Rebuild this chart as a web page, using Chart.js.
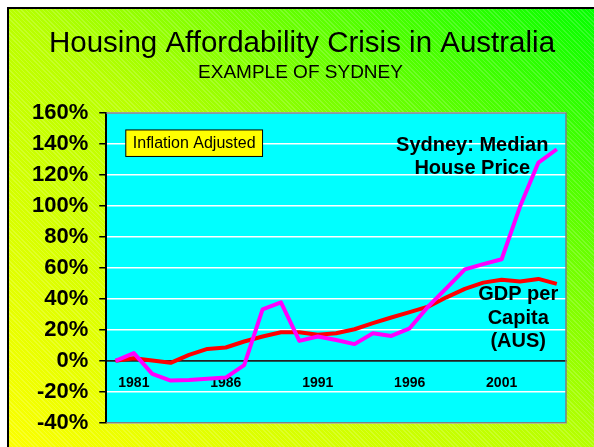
<!DOCTYPE html>
<html>
<head>
<meta charset="utf-8">
<script src="https://cdn.jsdelivr.net/npm/chart.js@4.4.1/dist/chart.umd.min.js"></script>
<style>
  html, body { margin: 0; padding: 0; background: #fff; }
  #wrap { position: relative; width: 594px; height: 447px; overflow: hidden; }
  #bg {
    position: absolute; left: 7px; top: 7px; width: 600px; height: 460px;
    border-left: 2px solid #000; border-top: 2px solid #000;
    background:
      repeating-linear-gradient(45deg, rgba(255,255,255,0.16) 0px, rgba(255,255,255,0.16) 1px, rgba(255,255,255,0) 1px, rgba(255,255,255,0) 3px),
      linear-gradient(to top right, #ffff00 0%, #b8ff00 50%, #00ff00 100%);
  }
  canvas { position: absolute; left: 0; top: 0; }
</style>
</head>
<body>
<div id="wrap">
  <div id="bg"></div>
  <canvas id="c" width="594" height="447"></canvas>
</div>
<script>
// ---- data ----
const years = ['1980','1981','1982','1983','1984','1985','1986','1987','1988','1989','1990','1991','1992','1993','1994','1995','1996','1997','1998','1999','2000','2001','2002','2003','2004'];
const shownYears = ['1981','1986','1991','1996','2001'];
const sydneyHousePrice = [0, 5, -8.4, -12.7, -12.3, -11.5, -10.8, -2.8, 33.3, 37.8, 12.9, 15.7, 13.5, 10.8, 17.8, 16.1, 21, 35, 47, 59, 62.4, 65.6, 99.6, 128, 136.6];
const gdpPerCapita = [0, 1.7, 0.2, -1.3, 3.9, 7.7, 8.6, 12.5, 15.7, 18.5, 18.5, 16.8, 17.8, 20.4, 24.3, 28, 31.4, 35, 41, 46.5, 50.5, 52.3, 51.2, 52.9, 49.7];
const yMin = -40, yMax = 160, yStep = 20;

const titleText = 'Housing Affordability Crisis in Australia';
const subtitleText = 'EXAMPLE OF SYDNEY';

const FONT = "'Liberation Sans', Arial, Helvetica, sans-serif";

// ---- text annotations (anchored in data space) ----
const notes = [
  { lines: ['Sydney: Median', 'House Price'], xi: 19.4, yv: 138.9, size: 20, bold: true, gap: 23 },
  { lines: ['GDP per', 'Capita', '(AUS)'], xi: 21.9, yv: 42.6, size: 20, bold: true, gap: 23.5 }
];
const boxNote = { text: 'Inflation Adjusted', xi: 4.28, yv: 140.5, size: 16 };

const plotBg = {
  id: 'plotBg',
  beforeDraw(chart) {
    const { ctx, chartArea: a } = chart;
    ctx.save();
    ctx.fillStyle = '#00ffff';
    ctx.fillRect(a.left, a.top, a.right - a.left, a.bottom - a.top);
    ctx.restore();
  },
  beforeDatasetsDraw(chart) {
    const { ctx, chartArea: a } = chart;
    ctx.save();
    ctx.strokeStyle = '#808080';
    ctx.lineWidth = 1.5;
    ctx.beginPath();
    ctx.moveTo(a.left, a.top);
    ctx.lineTo(a.right, a.top);
    ctx.lineTo(a.right, a.bottom);
    ctx.lineTo(a.left, a.bottom);
    ctx.stroke();
    ctx.restore();
  }
};

const titlesPlugin = {
  id: 'slideTitles',
  afterDraw(chart) {
    const { ctx } = chart;
    ctx.save();
    ctx.fillStyle = '#000';
    ctx.textAlign = 'center';
    ctx.textBaseline = 'middle';
    ctx.font = '29.5px ' + FONT;
    ctx.fillText(titleText, 302, 43.5);
    ctx.font = '19px ' + FONT;
    ctx.fillText(subtitleText, 300.5, 72.5);
    ctx.restore();
  }
};

const notesPlugin = {
  id: 'notes',
  afterDatasetsDraw(chart) {
    const { ctx } = chart;
    const xs = chart.scales.x, ys = chart.scales.y;
    ctx.save();
    ctx.fillStyle = '#000';
    ctx.textAlign = 'center';
    ctx.textBaseline = 'middle';
    notes.forEach(n => {
      ctx.font = (n.bold ? 'bold ' : '') + n.size + 'px ' + FONT;
      const x = xs.getPixelForValue(n.xi);
      const y0 = ys.getPixelForValue(n.yv);
      n.lines.forEach((t, i) => ctx.fillText(t, x, y0 + i * n.gap));
    });
    // boxed note
    ctx.font = boxNote.size + 'px ' + FONT;
    const bx = xs.getPixelForValue(boxNote.xi);
    const by = ys.getPixelForValue(boxNote.yv);
    const w = ctx.measureText(boxNote.text).width + 14;
    const h = 26.5;
    ctx.fillStyle = '#ffff00';
    ctx.fillRect(bx - w / 2, by - h / 2, w, h);
    ctx.strokeStyle = '#000';
    ctx.lineWidth = 1;
    ctx.strokeRect(bx - w / 2, by - h / 2, w, h);
    ctx.fillStyle = '#000';
    ctx.fillText(boxNote.text, bx, by + 0.5);
    ctx.restore();
  }
};

new Chart(document.getElementById('c'), {
  type: 'line',
  data: {
    labels: years,
    datasets: [
      { label: 'Sydney: Median House Price', data: sydneyHousePrice, borderColor: '#ff00ff', backgroundColor: '#ff00ff', borderWidth: 4, pointRadius: 0, tension: 0, borderJoinStyle: 'round' },
      { label: 'GDP per Capita (AUS)', data: gdpPerCapita, borderColor: '#ff0000', backgroundColor: '#ff0000', borderWidth: 4, pointRadius: 0, tension: 0, borderJoinStyle: 'round' }
    ]
  },
  options: {
    responsive: false,
    animation: false,
    devicePixelRatio: 1,
    layout: { padding: { left: 21, right: 28, top: 113, bottom: 24 } },
    plugins: {
      legend: { display: false },
      tooltip: { enabled: false },
      title: { display: false },
      subtitle: { display: false }
    },
    scales: {
      x: {
        type: 'category',
        offset: true,
        position: { y: 0 },
        grid: { display: false, drawTicks: false },
        border: { display: true, color: '#222', width: 1.5 },
        ticks: {
          autoSkip: false,
          maxRotation: 0,
          padding: 14,
          color: '#000',
          font: { family: FONT, size: 14, weight: 'bold' },
          callback(v, i) { const l = years[i]; return shownYears.includes(l) ? l : ''; }
        }
      },
      y: {
        min: yMin, max: yMax,
        grid: {
          color: c => (c.tick && c.tick.value === 0) ? '#222' : '#ffffff',
          lineWidth: 1.5,
          tickColor: '#000',
          tickLength: 7,
          drawTicks: true
        },
        border: { display: true, color: '#000', width: 2 },
        ticks: {
          stepSize: yStep,
          padding: 11,
          color: '#000',
          font: { family: FONT, size: 22, weight: 'bold' },
          callback: v => v + '%'
        }
      }
    }
  },
  plugins: [plotBg, notesPlugin, titlesPlugin]
});
</script>
</body>
</html>
